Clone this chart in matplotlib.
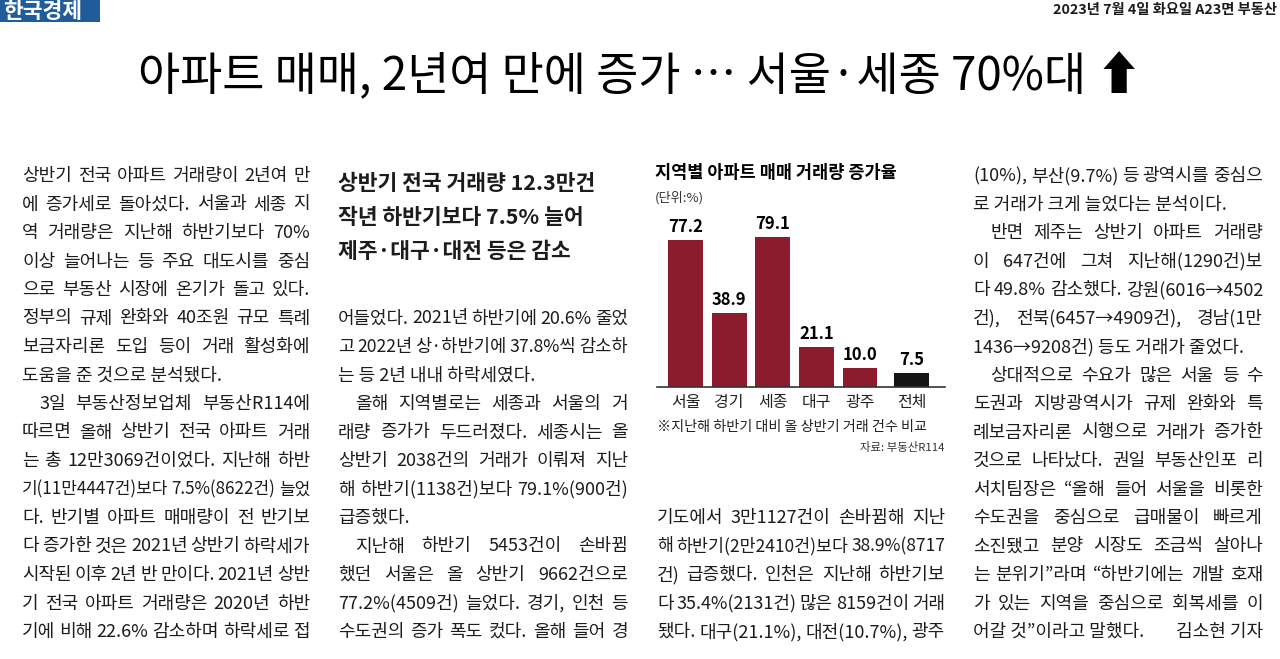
import matplotlib
matplotlib.use('Agg')
import matplotlib.pyplot as plt
from matplotlib.patches import Rectangle
import numpy as np

plt.rcParams['font.family'] = ['Noto Sans CJK KR', 'DejaVu Sans']

# ---------------- data ----------------
regions = ['서울', '경기', '세종', '대구', '광주', '전체']
rates = [77.2, 38.9, 79.1, 21.1, 10.0, 7.5]
is_total = [False, False, False, False, False, True]

chart_title = '지역별 아파트 매매 거래량 증가율'
chart_unit = '(단위:%)'
chart_note = '※지난해 하반기 대비 올 상반기 거래 건수 비교'
chart_source = '자료: 부동산R114'

headline = '아파트 매매, 2년여 만에 증가 … 서울·세종 70%대 ⬆'
masthead = '한국경제'
dateline = '2023년 7월 4일 화요일 A23면 부동산'
subheads = ['상반기 전국 거래량 12.3만건', '작년 하반기보다 7.5% 늘어', '제주·대구·대전 등은 감소']

# '^' = indented paragraph start, '$' = paragraph end (not justified)
col1 = [
    "상반기 전국 아파트 거래량이 2년여 만",
    "에 증가세로 돌아섰다. 서울과 세종 지",
    "역 거래량은 지난해 하반기보다 70%",
    "이상 늘어나는 등 주요 대도시를 중심",
    "으로 부동산 시장에 온기가 돌고 있다.",
    "정부의 규제 완화와 40조원 규모 특례",
    "보금자리론 도입 등이 거래 활성화에",
    "도움을 준 것으로 분석됐다.$",
    "^3일 부동산정보업체 부동산R114에",
    "따르면 올해 상반기 전국 아파트 거래",
    "는 총 12만3069건이었다. 지난해 하반",
    "기(11만4447건)보다 7.5%(8622건) 늘었",
    "다. 반기별 아파트 매매량이 전 반기보",
    "다 증가한 것은 2021년 상반기 하락세가",
    "시작된 이후 2년 반 만이다. 2021년 상반",
    "기 전국 아파트 거래량은 2020년 하반",
    "기에 비해 22.6% 감소하며 하락세로 접",
]
col2 = [
    "어들었다. 2021년 하반기에 20.6% 줄었",
    "고 2022년 상·하반기에 37.8%씩 감소하",
    "는 등 2년 내내 하락세였다.$",
    "^올해 지역별로는 세종과 서울의 거",
    "래량 증가가 두드러졌다. 세종시는 올",
    "상반기 2038건의 거래가 이뤄져 지난",
    "해 하반기(1138건)보다 79.1%(900건)",
    "급증했다.$",
    "^지난해 하반기 5453건이 손바뀜",
    "했던 서울은 올 상반기 9662건으로",
    "77.2%(4509건) 늘었다. 경기, 인천 등",
    "수도권의 증가 폭도 컸다. 올해 들어 경",
]
col3 = [
    "기도에서 3만1127건이 손바뀜해 지난",
    "해 하반기(2만2410건)보다 38.9%(8717",
    "건) 급증했다. 인천은 지난해 하반기보",
    "다 35.4%(2131건) 많은 8159건이 거래",
    "됐다. 대구(21.1%), 대전(10.7%), 광주",
]
col4 = [
    "(10%), 부산(9.7%) 등 광역시를 중심으",
    "로 거래가 크게 늘었다는 분석이다.$",
    "^반면 제주는 상반기 아파트 거래량",
    "이 647건에 그쳐 지난해(1290건)보",
    "다 49.8% 감소했다. 강원(6016→4502",
    "건), 전북(6457→4909건), 경남(1만",
    "1436→9208건) 등도 거래가 줄었다.$",
    "^상대적으로 수요가 많은 서울 등 수",
    "도권과 지방광역시가 규제 완화와 특",
    "례보금자리론 시행으로 거래가 증가한",
    "것으로 나타났다. 권일 부동산인포 리",
    "서치팀장은 “올해 들어 서울을 비롯한",
    "수도권을 중심으로 급매물이 빠르게",
    "소진됐고 분양 시장도 조금씩 살아나",
    "는 분위기”라며 “하반기에는 개발 호재",
    "가 있는 지역을 중심으로 회복세를 이",
    "어갈 것”이라고 말했다.$",
]
byline = '김소현 기자'

# ---------------- figure ----------------
W, H = 1280, 659
fig = plt.figure(figsize=(W / 100, H / 100), dpi=100)
fig.patch.set_facecolor('white')
renderer = fig.canvas.get_renderer()
INK = '#1c1c1c'


def fx(x):
    return x / W


def fy(y):
    return 1 - y / H


# masthead
fig.patches.append(Rectangle((0, fy(22)), fx(100), 22 / H, transform=fig.transFigure,
                             facecolor='#1f5c99', edgecolor='none'))
fig.text(fx(3), fy(11), masthead, color='white', fontsize=15.5, fontweight='bold',
         ha='left', va='center')
fig.text(fx(1277), fy(10), dateline, color=INK, fontsize=10.3, fontweight='bold',
         ha='right', va='center')

# headline
fig.text(fx(640), fy(77), headline, color='black', fontsize=33, ha='center', va='center')

# sub headlines
for i, s in enumerate(subheads):
    fig.text(fx(338), fy(183 + i * 34), s, color=INK, fontsize=15.5, fontweight='bold',
             ha='left', va='center')

BODY = 13.0
LINE = 28.5


def put_line(x0, x1, y, s, size=BODY):
    indent = s.startswith('^')
    ragged = s.endswith('$')
    s = s.strip('^$')
    xs = x0 + (17 if indent else 0)
    if ragged:
        fig.text(fx(xs), fy(y), s, color=INK, fontsize=size, ha='left', va='center')
        return
    words = s.split(' ')
    texts = [fig.text(0, fy(y), w, color=INK, fontsize=size, ha='left', va='center') for w in words]
    widths = [t.get_window_extent(renderer).width for t in texts]
    avail = x1 - xs
    n = len(words)
    if n > 1:
        gap = (avail - sum(widths)) / (n - 1)
        if gap < 3:
            f = (avail - 3 * (n - 1)) / sum(widths)
            for t in texts:
                t.set_fontsize(size * f)
            widths = [t.get_window_extent(renderer).width for t in texts]
            gap = (avail - sum(widths)) / (n - 1)
    else:
        gap = 0
    x = xs
    for t, w in zip(texts, widths):
        t.set_x(fx(x))
        x += w + gap


def put_column(lines, x0, x1, y0):
    for i, s in enumerate(lines):
        put_line(x0, x1, y0 + i * LINE, s)


put_column(col1, 22, 310, 176)
put_column(col2, 338, 628, 632 - (len(col2) - 1) * LINE)
put_column(col3, 657, 945, 632 - (len(col3) - 1) * LINE)
put_column(col4, 973, 1263, 176)
fig.text(fx(1263), fy(176 + (len(col4) - 1) * LINE), byline, color=INK, fontsize=BODY,
         ha='right', va='center')

# ---------------- chart ----------------
fig.text(fx(655), fy(173), chart_title, color='black', fontsize=12.6, fontweight='bold',
         ha='left', va='center')
fig.text(fx(655), fy(198), chart_unit, color='#333333', fontsize=9.5, ha='left', va='center')

ax = fig.add_axes([fx(657), fy(387), (945 - 657) / W, 190 / H])
ax.patch.set_alpha(0)
xpos = np.arange(len(regions), dtype=float)
xpos[-1] += 0.18
colors = ['#151515' if t else '#8b1b2d' for t in is_total]
ax.bar(xpos, rates, width=0.8, color=colors, edgecolor='none', zorder=2)
for x, v in zip(xpos, rates):
    ax.text(x, v + 2.2, f'{v:.1f}', ha='center', va='bottom', fontsize=12,
            fontweight='bold', color='black')
ax.set_xlim(-0.655, 5.95)
ax.set_ylim(0, 100)
ax.set_xticks(xpos, regions)
ax.set_yticks([])
ax.tick_params(axis='x', length=0, pad=5, labelsize=11.5, colors='#222222')
for sp in ['top', 'right', 'left']:
    ax.spines[sp].set_visible(False)
ax.spines['bottom'].set_color('#333333')
ax.spines['bottom'].set_linewidth(1.2)
ax.spines['bottom'].set_zorder(3)

fig.text(fx(657), fy(427), chart_note, color='#222222', fontsize=10.2, ha='left', va='center')
fig.text(fx(945), fy(448), chart_source, color='#333333', fontsize=8.2, ha='right', va='center')

fig.savefig('out.png', dpi=100, facecolor='white')
